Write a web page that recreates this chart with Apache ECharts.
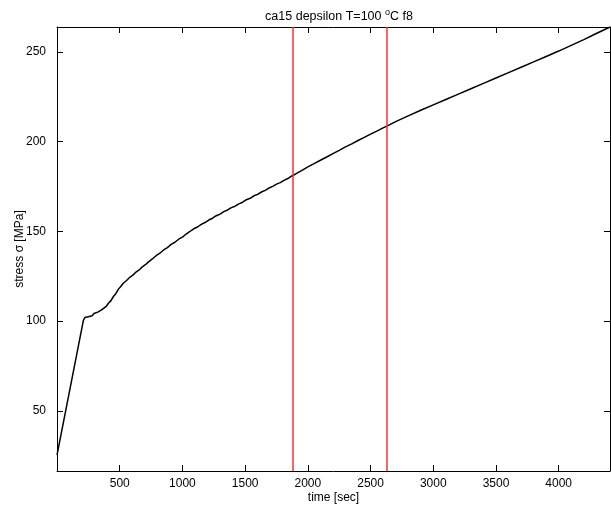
<!DOCTYPE html>
<html>
<head>
<meta charset="utf-8">
<script src="https://cdn.jsdelivr.net/npm/echarts@6/dist/echarts.min.js"></script>
<style>html,body{margin:0;padding:0;background:#fff}#c{width:611px;height:510px}</style>
</head>
<body>
<div id="c"></div>
<script>
const times = [0,210,222,235,250,265,280,295,310,325,340,355,370,390,410,430,450,470,490,510,530,555,580,605,630,655,680,705,730,760,790,820,850,880,910,940,970,1000,1030,1060,1090,1120,1150,1180,1210,1240,1270,1300,1330,1360,1390,1420,1450,1480,1510,1540,1570,1600,1630,1660,1690,1720,1750,1780,1810,1840,1870,1900,1950,2000,2050,2100,2150,2200,2250,2300,2350,2400,2450,2500,2550,2600,2650,2700,2800,2900,3000,3100,3200,3300,3400,3500,3600,3700,3800,3900,4000,4100,4200,4300,4409];
const stress = [25.3,100.3,102.0,102.8,102.4,103.4,103.0,104.2,103.8,105.0,104.8,106.2,106.9,108.0,109.9,111.4,113.7,115.4,117.8,119.4,121.2,122.6,124.4,125.6,127.3,128.5,130.2,131.4,133.0,134.6,136.4,137.8,139.6,140.9,142.7,143.9,145.6,146.8,148.5,149.9,151.4,152.4,153.9,154.9,156.3,157.3,158.7,159.6,161.0,161.9,163.2,164.0,165.3,166.2,167.6,168.4,169.8,170.6,171.9,172.8,174.1,175.0,176.3,177.1,178.4,179.4,180.8,181.8,183.8,185.9,187.7,189.6,191.4,193.3,195.1,197.0,198.7,200.6,202.3,204.1,205.8,207.6,209.3,211.1,214.3,217.4,220.4,223.4,226.4,229.4,232.4,235.4,238.4,241.4,244.4,247.4,250.4,253.6,256.8,260.2,263.8];
const vlines = [1880, 2630];
const xTicks = [500,1000,1500,2000,2500,3000,3500,4000];
const yTicks = [50,100,150,200,250];
const xRange = [0, 4409];
const yRange = [16.5, 263.8];

const font = 'Liberation Sans, Arial, sans-serif';
const chart = echarts.init(document.getElementById('c'), null, {renderer: 'canvas'});
function mkX(pos, labels) {
  return {
    type: 'value', position: pos, min: xRange[0], max: xRange[1],
    axisLine: {show: true, onZero: false, lineStyle: {color: '#000', width: 1}},
    axisTick: {show: true, inside: true, length: 6, customValues: xTicks, lineStyle: {color: '#000'}},
    axisLabel: {show: labels, customValues: xTicks, formatter: v => String(v), color: '#000', fontSize: 12, fontFamily: font, margin: 7},
    splitLine: {show: false},
    name: labels ? 'time [sec]' : '', nameLocation: 'middle', nameGap: 21, nameMoveOverlap: false,
    nameTextStyle: {color: '#000', fontSize: 12, fontFamily: font}
  };
}
function mkY(pos, labels) {
  return {
    type: 'value', position: pos, min: yRange[0], max: yRange[1],
    axisLine: {show: true, onZero: false, lineStyle: {color: '#000', width: 1}},
    axisTick: {show: true, inside: true, length: 6, customValues: yTicks, lineStyle: {color: '#000'}},
    axisLabel: {show: labels, customValues: yTicks, formatter: v => String(v), color: '#000', fontSize: 12, fontFamily: font, margin: 11},
    splitLine: {show: false},
    name: labels ? 'stress σ [MPa]' : '', nameLocation: 'middle', nameGap: 31, nameRotate: 90, nameMoveOverlap: false,
    nameTextStyle: {color: '#000', fontSize: 12, fontFamily: font}
  };
}
chart.setOption({
  animation: false,
  backgroundColor: '#fff',
  title: {
    text: '{n|ca15 depsilon T=100 }{s|o}{n|C f8}',
    left: 334, top: 3, textAlign: 'center',
    textStyle: {fontWeight: 'normal', rich: {
      n: {fontSize: 12.5, fontFamily: font, color: '#000', fontWeight: 'normal'},
      s: {fontSize: 9, fontFamily: font, color: '#000', fontWeight: 'normal', padding: [0, 0, 8, 0]}
    }}
  },
  grid: {left: 57, right: 1, top: 27, bottom: 39, containLabel: false},
  xAxis: [mkX('bottom', true), mkX('top', false)],
  yAxis: [mkY('left', true), mkY('right', false)],
  series: [{
    type: 'line',
    data: times.map((t, i) => [t, stress[i]]),
    showSymbol: false, symbol: 'none',
    lineStyle: {color: '#000', width: 1.5},
    markLine: {
      silent: true, symbol: ['none', 'none'], label: {show: false},
      lineStyle: {color: '#ff3030', width: 1.5, type: 'solid'},
      data: vlines.map(v => ({xAxis: v}))
    }
  }]
});
</script>
</body>
</html>
